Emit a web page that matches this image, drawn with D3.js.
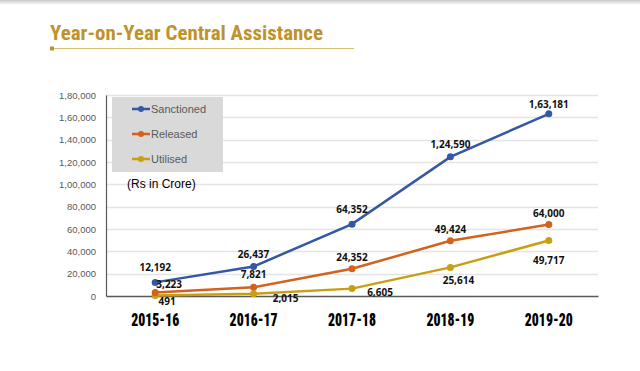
<!DOCTYPE html>
<html>
<head>
<meta charset="utf-8">
<title>Year-on-Year Central Assistance</title>
<style>
  body { margin: 0; background: #fff; }
  svg { display: block; }
</style>
</head>
<body>
<svg width="640" height="371"></svg>
<script src="https://d3js.org/d3.v7.min.js"></script>
<script>
// chart values (Rs in Crore)
var years = ["2015-16", "2016-17", "2017-18", "2018-19", "2019-20"];
var sanctioned = [12192, 26437, 64352, 124590, 163181];
var released = [3223, 7821, 24352, 49424, 64000];
var utilised = [491, 2015, 6605, 25614, 49717];
var seriesNames = ["Sanctioned", "Released", "Utilised"];
var yTicks = [0, 20000, 40000, 60000, 80000, 100000, 120000, 140000, 160000, 180000];

// where each value label sits relative to its point
var labelNudge = {
  Sanctioned: [[0, -11], [0, -8], [0, -11], [0, -9], [0, -6]],
  Released:   [[14, -4], [0, -9], [0, -8], [0, -8], [0, -8]],
  Utilised:   [[12, 10], [32, 8], [28, 7], [8, 17], [0, 24]]
};
var colors = { Sanctioned: "#3458a4", Released: "#d2621c", Utilised: "#c99f12" };

var svg = d3.select("svg");

// faint shadow band at the very top
var grad = svg.append("defs").append("linearGradient")
    .attr("id", "topShade").attr("x1", 0).attr("x2", 0).attr("y1", 0).attr("y2", 1);
grad.append("stop").attr("offset", "0%").attr("stop-color", "#c8c8c8");
grad.append("stop").attr("offset", "100%").attr("stop-color", "#ffffff");
svg.append("rect").attr("x", 0).attr("y", 0).attr("width", 640).attr("height", 5)
    .attr("fill", "url(#topShade)");

// title with gold rule underneath
svg.append("text")
    .attr("x", 50).attr("y", 40)
    .attr("font-family", "'Roboto Condensed', 'Liberation Sans Narrow', Roboto, sans-serif")
    .attr("font-weight", "bold")
    .attr("font-size", 20)
    .attr("textLength", 273)
    .attr("lengthAdjust", "spacingAndGlyphs")
    .attr("fill", "#c0922c")
    .text("Year-on-Year Central Assistance");
svg.append("line")
    .attr("x1", 52).attr("x2", 354).attr("y1", 48.5).attr("y2", 48.5)
    .attr("stroke", "#dcbd72").attr("stroke-width", 1);
svg.append("rect").attr("x", 50).attr("y", 46.5).attr("width", 4).attr("height", 4)
    .attr("fill", "#c0922c");

var margin = { left: 106, right: 598, top: 95, bottom: 296 };

var x = d3.scaleBand().domain(years).range([margin.left, margin.right]);
var y = d3.scaleLinear().domain([0, 180000]).range([margin.bottom, margin.top]);
var cx = function (i) { return x(years[i]) + x.bandwidth() / 2; };

// gridlines
svg.append("g")
    .selectAll("line")
    .data(yTicks.slice(1))
    .enter().append("line")
    .attr("x1", margin.left).attr("x2", margin.right)
    .attr("y1", function (d) { return Math.round(y(d)) + 0.5; })
    .attr("y2", function (d) { return Math.round(y(d)) + 0.5; })
    .attr("stroke", "#e4e4e4").attr("stroke-width", 1.5);

// y axis
var yAxis = svg.append("g")
    .attr("transform", "translate(" + margin.left + ",0)")
    .call(d3.axisLeft(y).tickValues(yTicks).tickSize(0).tickPadding(10)
        .tickFormat(function (d) { return d.toLocaleString("en-IN"); }));
yAxis.select(".domain").attr("stroke", "#595959").attr("stroke-width", 1.2);
yAxis.selectAll("text")
    .attr("font-family", "'Liberation Sans', Arial, sans-serif")
    .attr("font-size", 9.5)
    .attr("fill", "#595959");

// x axis
var xAxis = svg.append("g")
    .attr("transform", "translate(0," + margin.bottom + ")")
    .call(d3.axisBottom(x).tickSize(0).tickPadding(17));
xAxis.select(".domain").attr("stroke", "#595959").attr("stroke-width", 1.5);
xAxis.selectAll("text")
    .attr("font-family", "'Roboto Condensed', 'Liberation Sans Narrow', Roboto, sans-serif")
    .attr("font-weight", 900)
    .attr("font-size", 19)
    .attr("textLength", 48)
    .attr("lengthAdjust", "spacingAndGlyphs")
    .attr("fill", "#000");

// legend box
var legend = svg.append("g");
legend.append("rect")
    .attr("x", 112).attr("y", 97).attr("width", 111).attr("height", 75)
    .attr("fill", "#d9d9d9");
seriesNames.forEach(function (name, i) {
  var ly = 109 + i * 25;
  legend.append("line")
      .attr("x1", 132).attr("x2", 150).attr("y1", ly).attr("y2", ly)
      .attr("stroke", colors[name]).attr("stroke-width", 2.5);
  legend.append("circle")
      .attr("cx", 141).attr("cy", ly).attr("r", 3)
      .attr("fill", colors[name]);
  legend.append("text")
      .attr("x", 151).attr("y", ly + 4)
      .attr("font-family", "'Liberation Sans', Arial, sans-serif")
      .attr("font-size", 11)
      .attr("fill", "#595959")
      .text(name);
});
svg.append("text")
    .attr("x", 127).attr("y", 188)
    .attr("font-family", "'Liberation Sans', Arial, sans-serif")
    .attr("font-size", 12)
    .attr("fill", "#000")
    .text("(Rs in Crore)");

// lines, markers and value labels
var seriesData = { Sanctioned: sanctioned, Released: released, Utilised: utilised };
var line = d3.line()
    .x(function (d, i) { return cx(i); })
    .y(function (d) { return y(d); });

seriesNames.slice().reverse().forEach(function (name) {
  var vals = seriesData[name];
  var g = svg.append("g");
  g.append("path")
      .datum(vals)
      .attr("d", line)
      .attr("fill", "none")
      .attr("stroke", colors[name])
      .attr("stroke-width", 2.5);
  g.selectAll("circle")
      .data(vals)
      .enter().append("circle")
      .attr("cx", function (d, i) { return cx(i); })
      .attr("cy", function (d) { return y(d); })
      .attr("r", 3.5)
      .attr("fill", colors[name]);
});

seriesNames.forEach(function (name) {
  var vals = seriesData[name];
  svg.append("g")
      .selectAll("text")
      .data(vals)
      .enter().append("text")
      .attr("x", function (d, i) { return cx(i) + labelNudge[name][i][0]; })
      .attr("y", function (d, i) { return y(d) + labelNudge[name][i][1]; })
      .attr("text-anchor", "middle")
      .attr("font-family", "'Noto Sans', 'DejaVu Sans', sans-serif")
      .attr("font-weight", "bold")
      .attr("font-size", 10)
      .attr("fill", "#111")
      .text(function (d) { return d.toLocaleString("en-IN"); });
});
</script>
</body>
</html>
